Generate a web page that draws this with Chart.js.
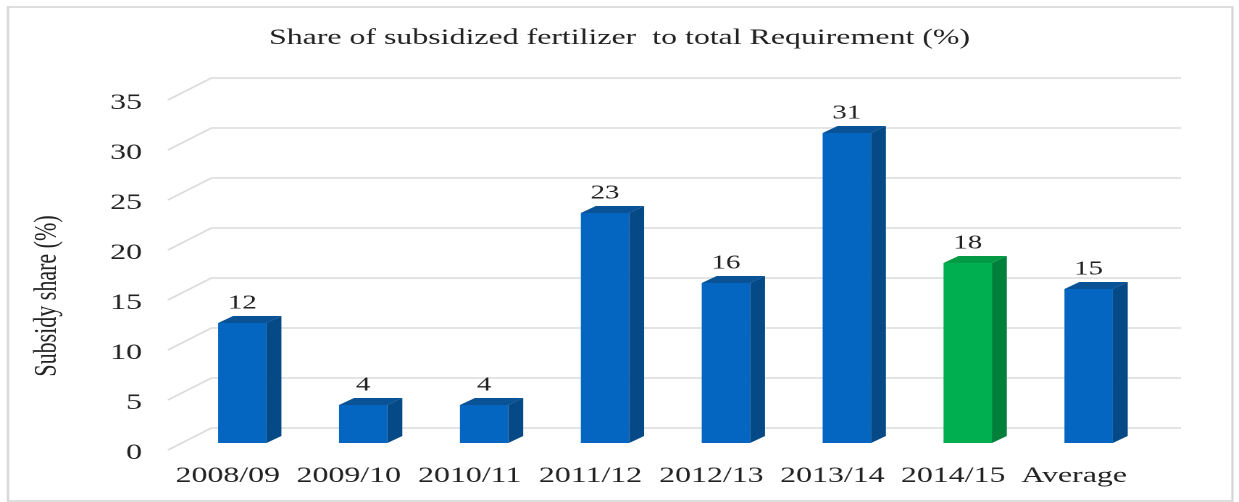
<!DOCTYPE html>
<html>
<head>
<meta charset="utf-8">
<script src="https://cdn.jsdelivr.net/npm/chart.js@4.4.0/dist/chart.umd.min.js"></script>
<style>
  html, body { margin: 0; padding: 0; background: #fff; overflow: hidden; }
  /* the original picture is stretched sideways, so the chart is laid out narrow and widened */
  #wrap { position: absolute; left: 0; top: 0; width: 855px; height: 502px;
          transform: scaleX(1.449); transform-origin: 0 0; }
</style>
</head>
<body>
<div id="wrap"><canvas id="chart" width="855" height="502"></canvas></div>
<script>
const categories = ['2008/09', '2009/10', '2010/11', '2011/12', '2012/13', '2013/14', '2014/15', 'Average'];
const shareValues = [12, 3.8, 3.8, 23, 16, 31, 18, 15.4];
const yTicks = [0, 5, 10, 15, 20, 25, 30, 35];
const chartTitle = 'Share of subsidized fertilizer  to total Requirement (%)';
const yAxisTitle = 'Subsidy share (%)';
const highlight = '2014/15';

const FONT = "'Liberation Serif', 'Times New Roman', serif";
const TEXT = '#222';
Chart.defaults.font.family = FONT;

const isHi = i => categories[i] === highlight;
const frontColors = categories.map((c, i) => isHi(i) ? '#00b050' : '#0566c1');
const sideColors = categories.map((c, i) => isHi(i) ? '#00803a' : '#054a86');
const topColors = categories.map((c, i) => isHi(i) ? '#029a45' : '#0a5296');

// depth of the bars and of the side wall
const DX = 10.3, DY = -7;
const WALL_DX = 30, WALL_FRONT = 7, WALL_BACK = -15;

const framePlugin = {
  id: 'frame',
  beforeDraw(chart) {
    const ctx = chart.ctx;
    ctx.save();
    ctx.fillStyle = '#fff';
    ctx.fillRect(0, 0, chart.width, chart.height);
    ctx.strokeStyle = '#d4d4d4';
    ctx.lineWidth = 1.5;
    ctx.strokeRect(5.5, 7, 845, 494);
    ctx.restore();
  },
  beforeDatasetsDraw(chart) {
    const { ctx, chartArea, scales: { y } } = chart;
    const x0 = chartArea.left - 9.6;
    const xEnd = chartArea.right + 22;
    ctx.save();
    ctx.strokeStyle = '#dcdcdc';
    ctx.lineWidth = 1.6;
    yTicks.forEach(v => {
      const py = y.getPixelForValue(v);
      ctx.beginPath();
      ctx.moveTo(x0, py + WALL_FRONT);
      ctx.lineTo(x0 + WALL_DX, py + WALL_BACK);
      ctx.lineTo(xEnd, py + WALL_BACK);
      ctx.stroke();
    });
    ctx.restore();
  },
  afterDatasetsDraw(chart) {
    const ctx = chart.ctx;
    const meta = chart.getDatasetMeta(0);
    ctx.save();
    meta.data.forEach((bar, i) => {
      const { x, y, base, width } = bar.getProps(['x', 'y', 'base', 'width'], true);
      const l = x - width / 2, r = x + width / 2;
      ctx.fillStyle = sideColors[i];
      ctx.beginPath();
      ctx.moveTo(r, y); ctx.lineTo(r + DX, y + DY);
      ctx.lineTo(r + DX, base + DY); ctx.lineTo(r, base);
      ctx.closePath(); ctx.fill();
      ctx.fillStyle = topColors[i];
      ctx.beginPath();
      ctx.moveTo(l, y); ctx.lineTo(l + DX, y + DY);
      ctx.lineTo(r + DX, y + DY); ctx.lineTo(r, y);
      ctx.closePath(); ctx.fill();
      ctx.fillStyle = TEXT;
      ctx.font = '20px ' + FONT;
      ctx.textAlign = 'center';
      ctx.textBaseline = 'middle';
      ctx.fillText(String(Math.round(shareValues[i])), x, y - 20);
    });
    ctx.restore();
  },
  afterDraw(chart) {
    const ctx = chart.ctx;
    ctx.save();
    ctx.translate(32.5, 296);
    ctx.rotate(-Math.PI / 2);
    ctx.fillStyle = TEXT;
    ctx.font = '22px ' + FONT;
    ctx.textAlign = 'center';
    ctx.textBaseline = 'middle';
    ctx.fillText(yAxisTitle, 0, 0);
    ctx.restore();
  }
};

new Chart(document.getElementById('chart'), {
  type: 'bar',
  data: {
    labels: categories,
    datasets: [{
      data: shareValues,
      backgroundColor: frontColors,
      barPercentage: 0.4,
      categoryPercentage: 1
    }]
  },
  options: {
    responsive: false,
    devicePixelRatio: 2,
    animation: false,
    layout: { padding: 0 },
    plugins: {
      legend: { display: false },
      tooltip: { enabled: false },
      title: {
        display: true,
        text: chartTitle,
        color: TEXT,
        font: { size: 22, weight: 'normal' },
        padding: { top: 25, bottom: 41.6 }
      }
    },
    scales: {
      x: {
        grid: { display: false },
        border: { display: false },
        ticks: { color: TEXT, font: { size: 22 }, padding: 12, labelOffset: -10, maxRotation: 0, autoSkip: false },
        afterFit: s => { s.height = 59; }
      },
      y: {
        min: 0,
        max: 35,
        grid: { display: false },
        border: { display: false },
        ticks: { stepSize: 5, color: TEXT, font: { size: 22 }, padding: 19.5, labelOffset: 10 },
        afterFit: s => { s.width = 125.5; }
      },
      // empty right margin so the plot ends where the original does
      yRight: {
        position: 'right',
        min: 0,
        max: 35,
        grid: { display: false },
        border: { display: false },
        ticks: { display: false },
        afterFit: s => { s.width = 62; }
      }
    }
  },
  plugins: [framePlugin]
});
</script>
</body>
</html>
